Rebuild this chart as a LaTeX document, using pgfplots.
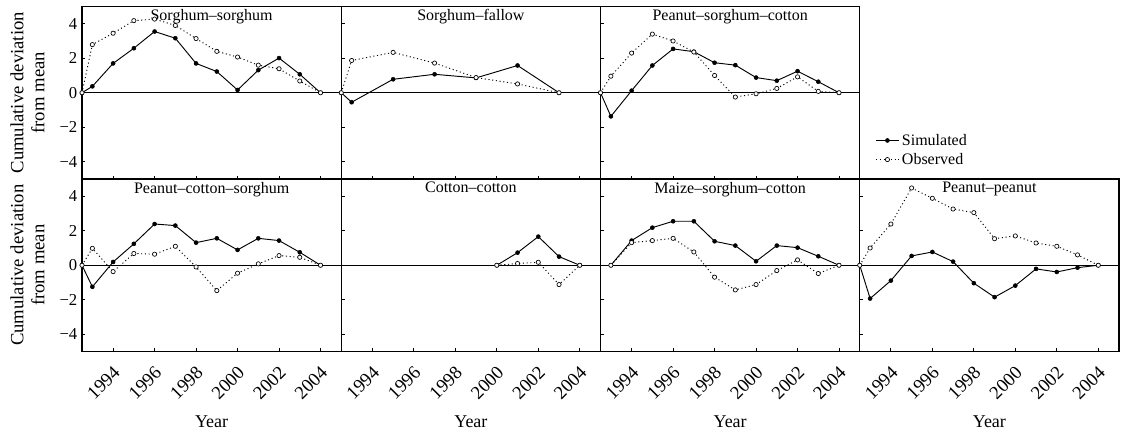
\documentclass[border=0pt]{standalone}
\usepackage{fontspec}
\setmainfont{Liberation Serif}
\usepackage{pgfplots}
\pgfplotsset{compat=1.18}
\pgfplotsset{
  panel/.style={
    scale only axis, width=194.44pt, height=129.375pt,
    anchor=south west,
    xmin=1992.5, xmax=2005, ymin=-5, ymax=5,
    xtick={1994,1996,1998,2000,2002,2004}, ytick={-4,-2,0,2,4},
    xticklabels={}, yticklabels={},
    tick align=inside, xtick pos=left, ytick pos=left,
    major tick length=2.5pt,
    every tick/.style={black, line width=0.6pt},
    axis line style={line width=0.8pt},
    clip=false,
    ticklabel style={font=\fontsize{12.5}{15}\selectfont},
  },
  bottomrow/.style={
    xticklabels={1994,1996,1998,2000,2002,2004},
    xticklabel style={xshift=2.9pt, yshift=-13.5pt, rotate=45, anchor=east, inner sep=0pt, font=\fontsize{14}{16}\selectfont},
    xlabel={Year},
    xlabel style={at={(axis description cs:0.5,-0.407)}, anchor=center, font=\fontsize{13.5}{16}\selectfont},
  },
  leftcol/.style={
    yticklabels={−4,−2,0,2,4},
    ylabel={Cumulative deviation\\from mean},
    ylabel style={align=center, at={(axis description cs:-0.21,0.5)}, anchor=center, font=\fontsize{14}{15.75}\selectfont},
  },
  sim/.style={black, line width=0.7pt, mark=*, mark size=1.5pt, mark options={solid, fill=black, line width=0.4pt}},
  obs/.style={black, line width=0.7pt, dash pattern=on 0.8pt off 2pt, mark=*, mark size=1.6pt, mark options={solid, fill=white, draw=black, line width=0.5pt}},
  zero/.style={black, line width=0.7pt, mark=none, forget plot},
}
\newcommand{\ptitle}[1]{\node[anchor=north, inner sep=0pt, yshift=-2.2pt, font=\fontsize{12}{14}\selectfont] at (rel axis cs:0.5,1) {#1};}
\begin{document}
\begin{tikzpicture}
\path[use as bounding box] (0pt,0pt) rectangle (844.5pt,-325.5pt);

% Panel 1: Sorghum-sorghum
\begin{axis}[panel, leftcol, at={(61.5pt,-134.25pt)}]
\addplot[zero] coordinates {(1992.5,0) (2005,0)};
\addplot[sim] coordinates {(1992.5,0) (1993,0.37) (1994,1.70) (1995,2.58) (1996,3.55) (1997,3.16) (1998,1.70) (1999,1.23) (2000,0.16) (2001,1.31) (2002,2.01) (2003,1.07) (2004,0)};
\addplot[obs] coordinates {(1992.5,0) (1993,2.79) (1994,3.45) (1995,4.18) (1996,4.27) (1997,3.90) (1998,3.14) (1999,2.40) (2000,2.07) (2001,1.60) (2002,1.39) (2003,0.68) (2004,0)};
\ptitle{Sorghum–sorghum}
\end{axis}

% Panel 2: Sorghum-fallow
\begin{axis}[panel, at={(255.94pt,-134.25pt)}]
\addplot[zero] coordinates {(1992.5,0) (2005,0)};
\addplot[sim] coordinates {(1992.5,0) (1993,-0.55) (1995,0.78) (1997,1.07) (1999,0.86) (2001,1.58) (2003,0)};
\addplot[obs] coordinates {(1992.5,0) (1993,1.87) (1995,2.34) (1997,1.72) (1999,0.88) (2001,0.51) (2003,0)};
\ptitle{Sorghum–fallow}
\end{axis}

% Panel 3: Peanut-sorghum-cotton (with legend)
\begin{axis}[panel, at={(450.375pt,-134.25pt)},
  legend style={draw=none, fill=none, at={(axis description cs:1.06,0.168)}, anchor=west, inner sep=0pt, font=\fontsize{12}{14}\selectfont, row sep=0.5pt},
  legend cell align=left]
\addplot[zero] coordinates {(1992.5,0) (2005,0)};
\addplot[sim] coordinates {(1992.5,0) (1993,-1.37) (1994,0.12) (1995,1.58) (1996,2.54) (1997,2.38) (1998,1.74) (1999,1.60) (2000,0.88) (2001,0.70) (2002,1.25) (2003,0.64) (2004,0)};
\addlegendentry{Simulated}
\addplot[obs] coordinates {(1992.5,0) (1993,0.96) (1994,2.30) (1995,3.40) (1996,3.00) (1997,2.36) (1998,1.0) (1999,-0.25) (2000,-0.06) (2001,0.25) (2002,0.92) (2003,0.08) (2004,0)};
\addlegendentry{Observed}
\ptitle{Peanut–sorghum–cotton}
\end{axis}

% Panel 4: Peanut-cotton-sorghum
\begin{axis}[panel, leftcol, bottomrow, at={(61.5pt,-263.625pt)}]
\addplot[zero] coordinates {(1992.5,0) (2005,0)};
\addplot[sim] coordinates {(1992.5,0) (1993,-1.25) (1994,0.19) (1995,1.24) (1996,2.39) (1997,2.30) (1998,1.31) (1999,1.56) (2000,0.89) (2001,1.56) (2002,1.43) (2003,0.75) (2004,0)};
\addplot[obs] coordinates {(1992.5,0) (1993,0.98) (1994,-0.37) (1995,0.68) (1996,0.64) (1997,1.10) (1998,-0.10) (1999,-1.47) (2000,-0.46) (2001,0.08) (2002,0.56) (2003,0.46) (2004,0)};
\ptitle{Peanut–cotton–sorghum}
\end{axis}

% Panel 5: Cotton-cotton
\begin{axis}[panel, bottomrow, at={(255.94pt,-263.625pt)}]
\addplot[zero] coordinates {(1992.5,0) (2005,0)};
\addplot[sim] coordinates {(2000,0) (2001,0.73) (2002,1.66) (2003,0.50) (2004,0)};
\addplot[obs] coordinates {(2000,0) (2001,0.10) (2002,0.17) (2003,-1.12) (2004,0)};
\ptitle{Cotton–cotton}
\end{axis}

% Panel 6: Maize-sorghum-cotton
\begin{axis}[panel, bottomrow, at={(450.375pt,-263.625pt)}]
\addplot[zero] coordinates {(1992.5,0) (2005,0)};
\addplot[sim] coordinates {(1993,0) (1994,1.43) (1995,2.18) (1996,2.55) (1997,2.55) (1998,1.39) (1999,1.14) (2000,0.23) (2001,1.14) (2002,1.02) (2003,0.52) (2004,0)};
\addplot[obs] coordinates {(1993,0) (1994,1.31) (1995,1.43) (1996,1.56) (1997,0.77) (1998,-0.69) (1999,-1.43) (2000,-1.12) (2001,-0.31) (2002,0.31) (2003,-0.48) (2004,0)};
\ptitle{Maize–sorghum–cotton}
\end{axis}

% Panel 7: Peanut-peanut
\begin{axis}[panel, bottomrow, at={(644.81pt,-263.625pt)}]
\addplot[zero] coordinates {(1992.5,0) (2005,0)};
\addplot[sim] coordinates {(1992.5,0) (1993,-1.93) (1994,-0.89) (1995,0.54) (1996,0.77) (1997,0.21) (1998,-1.04) (1999,-1.85) (2000,-1.18) (2001,-0.21) (2002,-0.39) (2003,-0.14) (2004,0)};
\addplot[obs] coordinates {(1992.5,0) (1993,1.0) (1994,2.39) (1995,4.48) (1996,3.88) (1997,3.26) (1998,3.05) (1999,1.54) (2000,1.70) (2001,1.29) (2002,1.10) (2003,0.60) (2004,0)};
\ptitle{Peanut–peanut}
\end{axis}
\end{tikzpicture}
\end{document}
